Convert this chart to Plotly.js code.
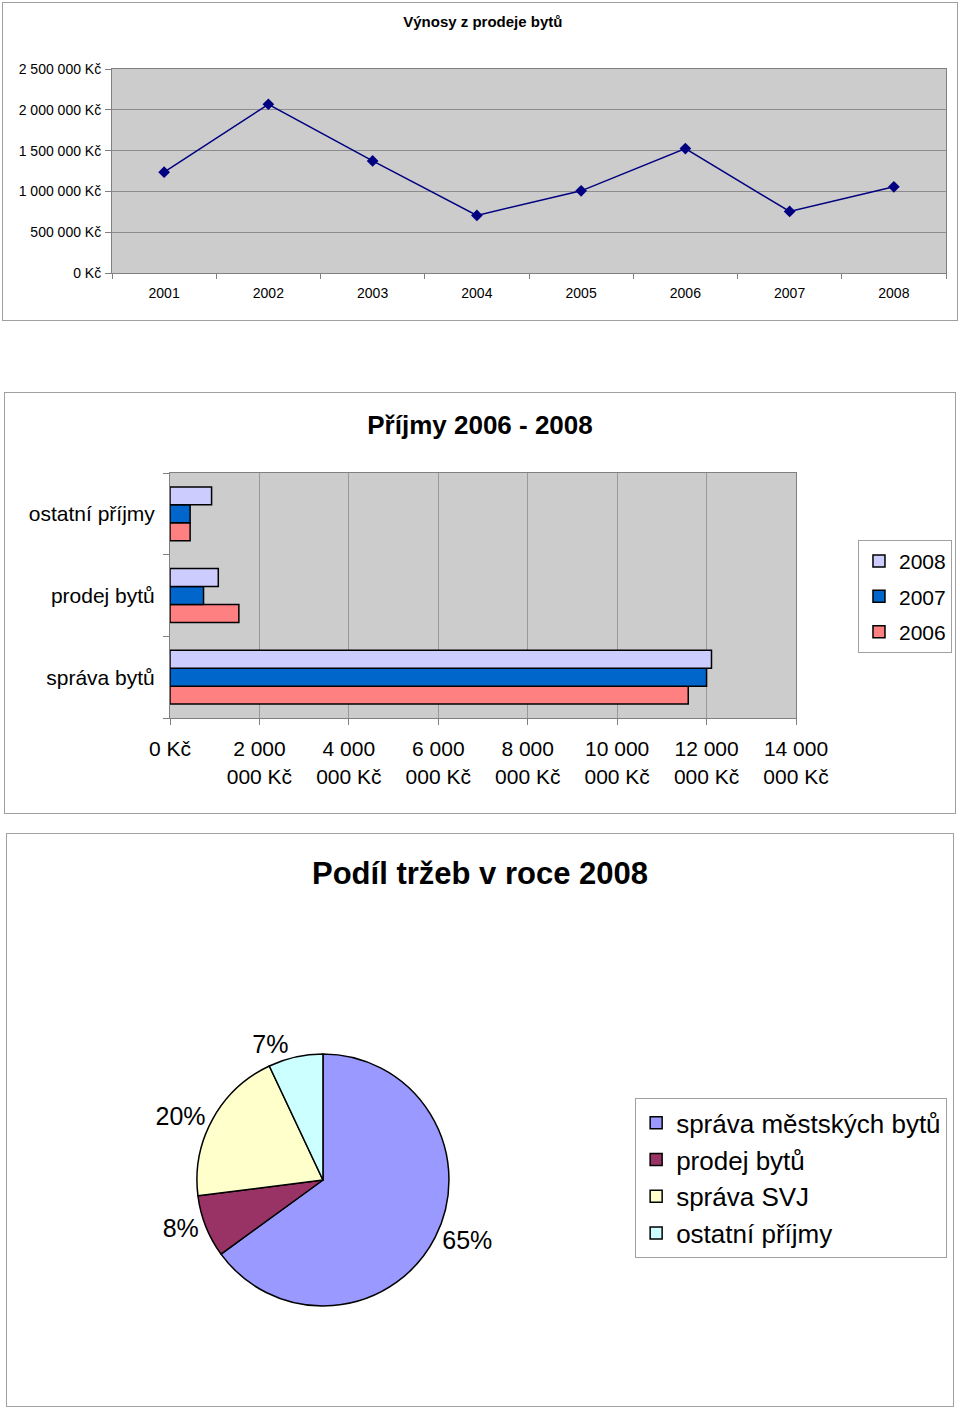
<!DOCTYPE html>
<html>
<head>
<meta charset="utf-8">
<script src="https://cdn.plot.ly/plotly-3.0.1.min.js"></script>
<style>
  html, body { margin: 0; padding: 0; background: #ffffff; }
  body { width: 960px; height: 1409px; position: relative; overflow: hidden; }
  .box { position: absolute; border: 1px solid #a0a0a0; box-sizing: content-box; }
</style>
</head>
<body>
<div id="c1" class="box" style="left:2px; top:2px; width:954px; height:317px;"></div>
<div id="c2" class="box" style="left:4px; top:392px; width:950px; height:420px;"></div>
<div id="c3" class="box" style="left:6px; top:833px; width:946px; height:572px;"></div>
<script>
// ---- Chart 1: Výnosy z prodeje bytů ----
const years = ['2001', '2002', '2003', '2004', '2005', '2006', '2007', '2008'];
const salesRevenue = [1236000, 2068000, 1374000, 706000, 1007000, 1525000, 754000, 1056000];
const lineTickVals = [0, 500000, 1000000, 1500000, 2000000, 2500000];
const lineTickText = ['0 Kč', '500 000 Kč', '1 000 000 Kč', '1 500 000 Kč', '2 000 000 Kč', '2 500 000 Kč'];

// ---- Chart 2: Příjmy 2006 - 2008 ----
const incomeCategories = ['správa bytů', 'prodej bytů', 'ostatní příjmy'];
const income2006 = [11590000, 1540000, 450000];
const income2007 = [12000000, 750000, 450000];
const income2008 = [12110000, 1080000, 930000];
const barTickVals = [0, 2000000, 4000000, 6000000, 8000000, 10000000, 12000000, 14000000];
const barTickText = ['0 Kč', '2 000<br>000 Kč', '4 000<br>000 Kč', '6 000<br>000 Kč', '8 000<br>000 Kč', '10 000<br>000 Kč', '12 000<br>000 Kč', '14 000<br>000 Kč'];

// ---- Chart 3: Podíl tržeb v roce 2008 ----
const shareLabels = ['správa městských bytů', 'prodej bytů', 'správa SVJ', 'ostatní příjmy'];
const shareValues = [65, 8, 20, 7];

const FONT = 'Liberation Sans, Arial, sans-serif';
const cfg = {staticPlot: true, displayModeBar: false};

// Chart 1
Plotly.newPlot('c1', [{
  type: 'scatter', mode: 'lines+markers',
  x: years, y: salesRevenue,
  line: {color: '#000080', width: 1.5},
  marker: {symbol: 'diamond', size: 9, color: '#000080'},
  showlegend: false
}], {
  width: 954, height: 317,
  margin: {l: 109, r: 11, t: 66, b: 47, autoexpand: false},
  paper_bgcolor: '#ffffff', plot_bgcolor: '#cccccc',
  font: {family: FONT, size: 14, color: '#000'},
  title: {text: '<b>Výnosy z prodeje bytů</b>', font: {family: FONT, size: 15, color: '#000'}, x: 0.503, xanchor: 'center', y: 0.94, yanchor: 'middle'},
  xaxis: {
    type: 'category', range: [-0.5, 7.5], tickson: 'boundaries',
    ticks: 'outside', ticklen: 5, tickcolor: '#808080',
    showline: true, linecolor: '#808080', linewidth: 1, mirror: true,
    showgrid: false, tickfont: {size: 14}, ticklabelstandoff: 7
  },
  yaxis: {
    range: [0, 2500000], tickvals: lineTickVals, ticktext: lineTickText,
    ticks: 'outside', ticklen: 6, tickcolor: '#808080',
    showline: true, linecolor: '#808080', linewidth: 1, mirror: true,
    showgrid: true, gridcolor: '#8c8c8c', gridwidth: 1, zeroline: false,
    tickfont: {size: 14}, ticklabelstandoff: 1
  }
}, cfg);

// Chart 2
const barLine = {color: '#000000', width: 1.5};
Plotly.newPlot('c2', [
  {type: 'bar', orientation: 'h', name: '2006', legendgroup: 'g2006', legendrank: 3, y: incomeCategories, x: income2006, marker: {color: '#ff8080', line: barLine}},
  {type: 'bar', orientation: 'h', name: '2007', legendgroup: 'g2007', legendrank: 2, y: incomeCategories, x: income2007, marker: {color: '#0066cc', line: barLine}},
  {type: 'bar', orientation: 'h', name: '2008', legendgroup: 'g2008', legendrank: 1, y: incomeCategories, x: income2008, marker: {color: '#ccccff', line: barLine}}
], {
  width: 950, height: 420,
  margin: {l: 165, r: 159, t: 80, b: 95, autoexpand: false},
  barmode: 'group', bargap: 0.34, bargroupgap: 0,
  paper_bgcolor: '#ffffff', plot_bgcolor: '#cccccc',
  font: {family: FONT, size: 21, color: '#000'},
  title: {text: '<b>Příjmy 2006 - 2008</b>', font: {family: FONT, size: 26, color: '#000'}, x: 0.5, xanchor: 'center', y: 0.924, yanchor: 'middle'},
  xaxis: {
    range: [0, 14000000], tickvals: barTickVals, ticktext: barTickText,
    ticks: 'outside', ticklen: 6, tickcolor: '#808080',
    showline: true, linecolor: '#808080', mirror: true,
    showgrid: true, gridcolor: '#999999', zeroline: false,
    tickfont: {size: 21}, ticklabelstandoff: 6
  },
  yaxis: {
    type: 'category', range: [-0.5, 2.5], tickson: 'boundaries',
    ticks: 'outside', ticklen: 6, tickcolor: '#808080',
    showline: true, linecolor: '#808080', mirror: true,
    showgrid: false, tickfont: {size: 21}, ticklabelstandoff: 10
  },
  legend: {
    x: 1.099, xanchor: 'left', y: 0.727, yanchor: 'top',
    traceorder: 'grouped', tracegroupgap: 5,
    bordercolor: '#a0a0a0', borderwidth: 1,
    font: {size: 21}, itemwidth: 30, bgcolor: '#ffffff'
  }
}, cfg);

// Chart 3
Plotly.newPlot('c3', [{
  type: 'pie', labels: shareLabels, values: shareValues,
  sort: false, direction: 'clockwise', rotation: 0,
  marker: {colors: ['#9999ff', '#993366', '#ffffcc', '#ccffff'], line: {color: '#000000', width: 1.5}},
  textinfo: 'percent', textposition: 'outside',
  texttemplate: '%{percent:.0%}',
  textfont: {size: 25, color: '#000'},
  domain: {x: [0.2008, 0.4672], y: [0.1748, 0.6154]},
  hoverinfo: 'none'
}], {
  width: 946, height: 572,
  margin: {l: 0, r: 0, t: 0, b: 0, autoexpand: false},
  paper_bgcolor: '#ffffff',
  font: {family: FONT, size: 26, color: '#000'},
  title: {text: '<b>Podíl tržeb v roce 2008</b>', font: {family: FONT, size: 31, color: '#000'}, x: 0.5, xanchor: 'center', y: 0.932, yanchor: 'middle'},
  legend: {
    x: 0.664, xanchor: 'left', y: 0.538, yanchor: 'top',
    bordercolor: '#a0a0a0', borderwidth: 1,
    font: {size: 26}, itemwidth: 30, bgcolor: '#ffffff'
  }
}, cfg);
</script>
</body>
</html>
